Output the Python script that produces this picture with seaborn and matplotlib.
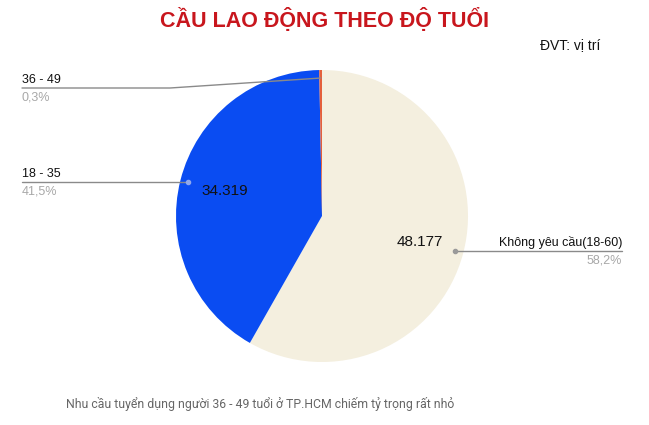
import numpy as np
import matplotlib
matplotlib.use('Agg')
import matplotlib.pyplot as plt
import seaborn as sns

# data
groups = ['Không yêu cầu(18-60)', '18 - 35', '36 - 49']
values = [48177, 34319, 250]
pct_labels = ['58,2%', '41,5%', '0,3%']
colors = ['#F4EFDF', '#0A4CF2', '#E4603C']

sns.set_theme(style='white')
plt.rcParams['font.family'] = ['Liberation Sans', 'DejaVu Sans']

W, H = 649, 425
fig = plt.figure(figsize=(W / 100, H / 100), dpi=100)
ax = fig.add_axes([0, 0, 1, 1])


def Y(y):
    # pixel row -> data y
    return H - y


cx, cy, r = 322, Y(216), 146
wedges, _ = ax.pie(values, colors=colors, startangle=90, counterclock=False,
                   center=(cx, cy), radius=r, frame=True,
                   wedgeprops=dict(linewidth=0))
ax.set_xlim(0, W)
ax.set_ylim(0, H)
ax.set_aspect('equal')
ax.axis('off')


def point_on(w, frac):
    ang = np.deg2rad((w.theta1 + w.theta2) / 2)
    return cx + frac * r * np.cos(ang), cy + frac * r * np.sin(ang)


line_c = '#8a8a8a'
lab_fs = 9
pct_c = '#a8a8a8'

# value labels inside the two big slices
for w, v in zip(wedges[:2], values[:2]):
    x, y = point_on(w, 0.69)
    ax.text(x, y, f'{v:,}'.replace(',', '.'), ha='center', va='center',
            fontsize=11, color='#111111')

# Không yêu cầu (right side)
x0, y0 = point_on(wedges[0], 0.945)
ax.plot([x0, 622], [y0, y0], color=line_c, lw=1)
ax.plot(x0, y0, 'o', ms=3, color='#9a9a9a')
ax.text(622, y0 + 2, groups[0], ha='right', va='bottom', fontsize=lab_fs, color='#111111')
ax.text(622, y0 - 3, pct_labels[0], ha='right', va='top', fontsize=lab_fs, color=pct_c)

# 18 - 35 (left side)
x1, y1 = point_on(wedges[1], 0.945)
ax.plot([22, x1], [y1, y1], color=line_c, lw=1)
ax.plot(x1, y1, 'o', ms=3, color='#8fa8ee')
ax.text(22, y1 + 2, groups[1], ha='left', va='bottom', fontsize=lab_fs, color='#111111')
ax.text(22, y1 - 3, pct_labels[1], ha='left', va='top', fontsize=lab_fs, color=pct_c)

# 36 - 49 (top left, bent leader)
x2, y2 = point_on(wedges[2], 0.945)
ax.plot([22, 170, x2], [Y(88), Y(88), y2], color=line_c, lw=1)
ax.text(22, Y(88) + 2, groups[2], ha='left', va='bottom', fontsize=lab_fs, color='#111111')
ax.text(22, Y(88) - 3, pct_labels[2], ha='left', va='top', fontsize=lab_fs, color=pct_c)

# title, unit, caption
fig.text(325 / W, 1 - 20 / H, 'CẦU LAO ĐỘNG THEO ĐỘ TUỔI', ha='center', va='center',
         fontsize=15.5, fontweight='bold', color='#C8161D')
fig.text(570 / W, 1 - 45 / H, 'ĐVT: vị trí', ha='center', va='center',
         fontsize=10, color='#111111')
fig.text(260 / W, 1 - 404 / H,
         'Nhu cầu tuyển dụng người 36 - 49 tuổi ở TP.HCM chiếm tỷ trọng rất nhỏ',
         ha='center', va='center', fontsize=8.8, color='#666666',
         family=['Roboto', 'DejaVu Sans'])

fig.savefig('out.png', dpi=100)
